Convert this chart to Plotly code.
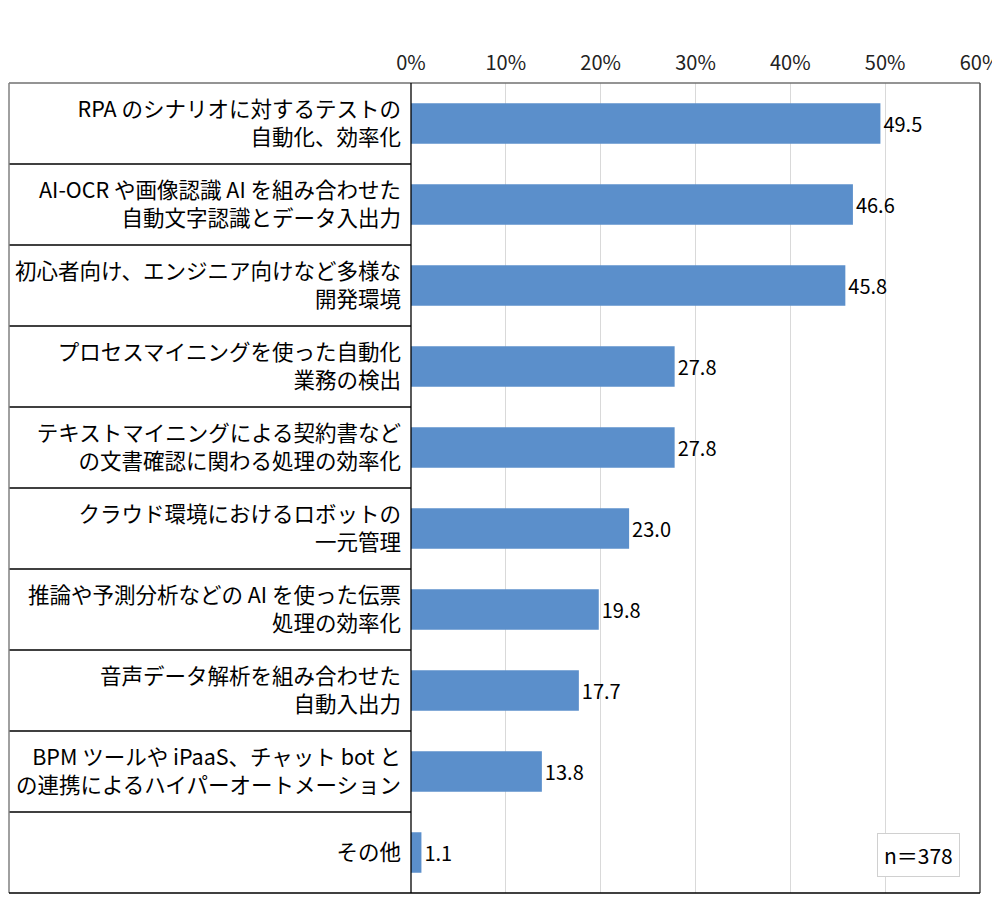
import plotly.graph_objects as go

categories = [
    "RPA のシナリオに対するテストの<br>自動化、効率化",
    "AI-OCR や画像認識 AI を組み合わせた<br>自動文字認識とデータ入出力",
    "初心者向け、エンジニア向けなど多様な<br>開発環境",
    "プロセスマイニングを使った自動化<br>業務の検出",
    "テキストマイニングによる契約書など<br>の文書確認に関わる処理の効率化",
    "クラウド環境におけるロボットの<br>一元管理",
    "推論や予測分析などの AI を使った伝票<br>処理の効率化",
    "音声データ解析を組み合わせた<br>自動入出力",
    "BPM ツールや iPaaS、チャット bot と<br>の連携によるハイパーオートメーション",
    "その他",
]
values = [49.5, 46.6, 45.8, 27.8, 27.8, 23.0, 19.8, 17.7, 13.8, 1.1]
tick_vals = [0, 10, 20, 30, 40, 50, 60]
tick_text = ["0%", "10%", "20%", "30%", "40%", "50%", "60%"]
note = "n＝378"

FONT = "Noto Sans CJK JP"
BAR_COLOR = "#5B8FCB"
ML, MR = 403, 28
PLOT_W = 1000 - ML - MR
LEFT = (1 - ML) / PLOT_W  # left edge of the label box, in paper units

fig = go.Figure(go.Bar(
    x=values,
    y=categories,
    orientation="h",
    marker=dict(color=BAR_COLOR, line=dict(width=0)),
    width=0.5,
    text=[f"{v:.1f}" for v in values],
    textposition="outside",
    textfont=dict(family=FONT, size=20, color="#000000"),
    cliponaxis=False,
))

shapes = []
# row separators in the label box
for i in range(len(categories) - 1):
    shapes.append(dict(type="line", xref="paper", yref="y",
                       x0=LEFT, x1=0, y0=i + 0.5, y1=i + 0.5,
                       line=dict(color="#000000", width=1.3)))
# outer frame
shapes.append(dict(type="line", xref="paper", yref="paper", x0=LEFT, x1=1, y0=1, y1=1,
                   line=dict(color="#707070", width=1.5)))
shapes.append(dict(type="line", xref="paper", yref="paper", x0=LEFT, x1=LEFT, y0=0, y1=1,
                   line=dict(color="#808080", width=1.5)))
shapes.append(dict(type="line", xref="paper", yref="paper", x0=1, x1=1, y0=0, y1=1,
                   line=dict(color="#505050", width=1.5)))
shapes.append(dict(type="line", xref="paper", yref="paper", x0=LEFT, x1=1, y0=0, y1=0,
                   line=dict(color="#000000", width=1.5)))
shapes.append(dict(type="line", xref="paper", yref="paper", x0=0, x1=0, y0=0, y1=1,
                   line=dict(color="#000000", width=1.3)))

# page body has an 8px margin, so the margins are shifted to compensate
fig.update_layout(
    width=1000, height=921,
    margin=dict(l=ML, r=MR, t=75, b=36),
    paper_bgcolor="white", plot_bgcolor="white",
    font=dict(family=FONT, color="#000000"),
    showlegend=False,
    bargap=0.5,
    shapes=shapes,
    xaxis=dict(
        side="top", range=[0, 60], tickvals=tick_vals, ticktext=tick_text,
        showgrid=True, gridcolor="#d9d9d9", gridwidth=1,
        zeroline=False, showline=False, ticks="", automargin=False,
        tickfont=dict(family=FONT, size=20, color="#222222"),
        ticklabelstandoff=8,
    ),
    yaxis=dict(
        autorange="reversed", showgrid=False, zeroline=False, showline=False,
        ticks="", ticklabelstandoff=9, automargin=False,
        tickfont=dict(family=FONT, size=21.5, color="#000000"),
    ),
    annotations=[dict(
        text=note, xref="paper", yref="paper", x=0.965, y=0.047,
        xanchor="right", yanchor="middle", showarrow=False,
        font=dict(family=FONT, size=21, color="#000000"),
        bgcolor="white", bordercolor="#d0d0d0", borderwidth=1, borderpad=6,
    )],
)

fig.write_html("out.html")
